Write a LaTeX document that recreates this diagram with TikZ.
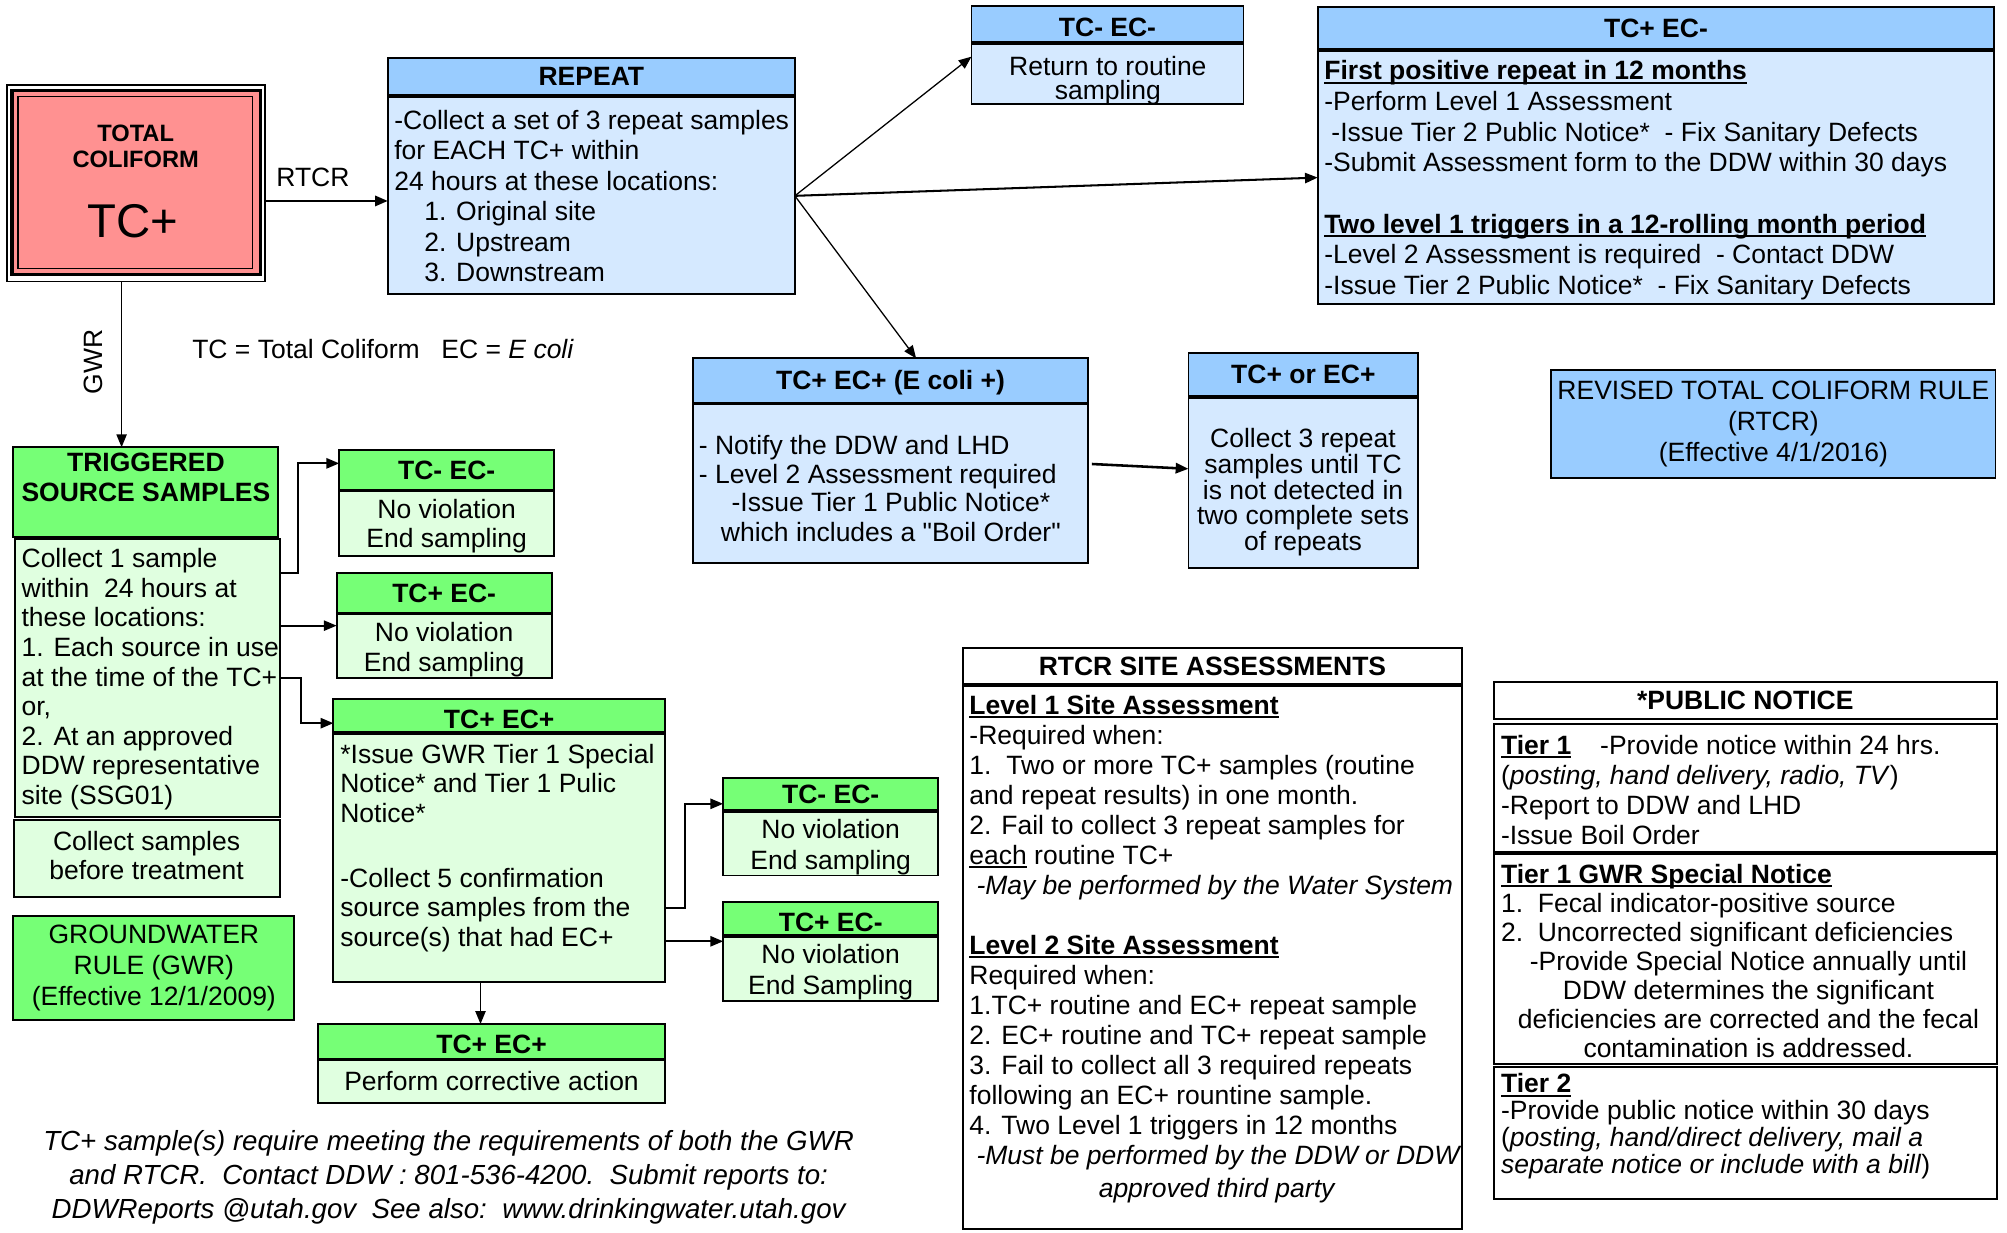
\documentclass[tikz,border=0pt]{standalone}
\usepackage{fontspec}
\setmainfont{Liberation Sans}
\usetikzlibrary{arrows.meta}
\definecolor{cbh}{HTML}{99CCFF}
\definecolor{cbb}{HTML}{D5E9FF}
\definecolor{cgh}{HTML}{76FF76}
\definecolor{cgb}{HTML}{E0FFE0}
\definecolor{crd}{HTML}{FF9191}
\newcommand\fs{\fontsize{20.7}{24}\selectfont}
\newcommand\fsb[1]{\fontsize{20.7}{#1}\selectfont}
\newcommand\tl{\rule{0pt}{15pt}}
\newcommand\sq{\XeTeXglyph\XeTeXcharglyph"22\relax}
\newbox\ulbx
\newcommand\myul[1]{\setbox\ulbx\hbox{#1}\rlap{\rule[-3pt]{\wd\ulbx}{1.5pt}}\box\ulbx}
\newcommand\mkbox[7]{\node[#2, minimum width={#5-#3}, minimum height={#6-#4}] (#1) at (#3,#4) {#7};}
\tikzset{
  bx/.style={draw, line width=1.5pt, inner sep=0pt, outer sep=0pt, anchor=north west, rectangle},
  hd/.style={bx, font=\fs\bfseries, text height=14.8pt, text depth=0pt},
  hlow/.style={text height=19.8pt},
  bluehead/.style={hd, fill=cbh},
  bluebody/.style={bx, fill=cbb},
  greenhead/.style={hd, fill=cgh},
  greenbody/.style={bx, fill=cgb},
  whitehead/.style={hd, fill=white},
  whitebody/.style={bx, fill=white},
  revbox/.style={bx, fill=cbh, align=center, font=\fs},
  gwrbox/.style={bx, fill=cgh, align=center, font=\fs},
  tcout/.style={bx, line width=1pt, fill=white},
  txt/.style={inner sep=0pt, anchor=north west, align=left, font=\fs},
  txtc/.style={inner sep=0pt, anchor=north, align=center, font=\fs},
  arr/.style={-{Triangle[length=10pt,width=8pt]}, line width=1.5pt},
}
\begin{document}
\begin{tikzpicture}[x=1pt,y=-1pt]
\fill[white] (0,0) rectangle (1568,963);
\useasboundingbox (0,0) rectangle (1568,963);

% ---------- boxes ----------
\mkbox{tc}{tcout}{5.5}{66.5}{207}{220}{}
\draw[line width=2.5pt, fill=crd] (9.3,71) rectangle (203.5,214.5);
\draw[line width=1pt] (14,75.5) rectangle (197.5,210);

\mkbox{repH}{bluehead}{303}{45}{621}{74.5}{REPEAT}
\mkbox{repB}{bluebody}{303}{76}{621}{230}{}
\mkbox{tcmH}{bluehead,hlow}{759}{5}{971.5}{33}{TC- EC-}
\mkbox{tcmB}{bluebody}{759}{34.5}{971.5}{81}{}
\mkbox{tceH}{bluehead}{1029.5}{5.5}{1558}{38.5}{TC+ EC-}
\mkbox{tceB}{bluebody}{1029.5}{40}{1558}{237.5}{}
\mkbox{ecH}{bluehead}{541.5}{280}{850}{314.5}{TC+ EC+ (E coli +)}
\mkbox{ecB}{bluebody}{541.5}{316}{850}{440}{}
\mkbox{orH}{bluehead}{928.5}{275.5}{1108}{309.5}{TC+ or EC+}
\mkbox{orB}{bluebody}{928.5}{311}{1108}{443.5}{}
\mkbox{rev}{revbox}{1212}{289}{1559}{373.6}{REVISED TOTAL COLIFORM RULE\\(RTCR)\\(Effective 4/1/2016)}

\mkbox{trigH}{greenhead}{10}{349.4}{217}{419.6}{}
\mkbox{trigB}{greenbody}{11.5}{421}{219}{638}{}
\mkbox{col}{greenbody}{11}{640.4}{219}{701}{}
\mkbox{gwr}{gwrbox}{10.4}{715.5}{230}{797}{GROUNDWATER\\RULE (GWR)\\(Effective 12/1/2009)}
\mkbox{g1H}{greenhead}{265}{351.5}{433}{382.5}{TC- EC-}
\mkbox{g1B}{greenbody}{265}{384}{433}{434.3}{}
\mkbox{g2H}{greenhead}{263}{448}{431}{478.5}{TC+ EC-}
\mkbox{g2B}{greenbody}{263}{480}{431}{530}{}
\mkbox{g3H}{greenhead,hlow}{260.5}{546}{519.5}{572}{TC+ EC+}
\mkbox{g3B}{greenbody}{260.5}{573.5}{519.5}{767}{}
\mkbox{g4H}{greenhead}{565}{607.5}{733}{633}{TC- EC-}
\mkbox{g4B}{greenbody}{565}{634.5}{733}{684}{}
\mkbox{g5H}{greenhead,hlow}{565}{705}{733}{730.8}{TC+ EC-}
\mkbox{g5B}{greenbody}{565}{732.3}{733}{782}{}
\mkbox{g6H}{greenhead,hlow}{248.6}{800}{519.5}{827}{TC+ EC+}
\mkbox{g6B}{greenbody}{248.6}{828.5}{519.5}{862}{}

\mkbox{rsaH}{whitehead}{752}{506.5}{1142.5}{534.5}{RTCR SITE ASSESSMENTS}
\mkbox{rsaB}{whitebody}{752}{536}{1142.5}{960.5}{}
\mkbox{pnH}{whitehead}{1167}{532.5}{1560}{562}{*PUBLIC NOTICE}
\mkbox{pn1}{whitebody}{1167}{565.5}{1560}{665.5}{}
\mkbox{pn2}{whitebody}{1167}{667.5}{1560}{831}{}
\mkbox{pn3}{whitebody}{1167}{833.5}{1560}{937}{}

% ---------- connectors ----------
\coordinate (rin) at ([yshift=-4pt]repB.west);
\draw[arr, line width=2pt] (tc.east |- rin) -- (rin);
\draw[arr, line width=1pt] (repB.east) -- ([yshift=13.5pt]tcmB.west);
\draw[arr, line width=1.6pt] (repB.east) -- (tceB.west);
\draw[arr, line width=1pt] (repB.east) -- ([xshift=20pt]ecH.north);
\draw[arr, line width=2pt] ([xshift=3pt,yshift=15.5pt]ecB.east) -- ([yshift=11pt]orB.west);
\coordinate (gx) at (95,0);
\draw[arr, line width=1pt] (tc.south -| gx) -- (trigH.north -| gx);
\draw[arr] ([yshift=82pt]trigB.east) -- ++(14,0) |- ([yshift=5pt]g1H.west);
\coordinate (t2) at ([yshift=40.7pt]trigB.east);
\draw[arr] (t2) -- (t2 -| g2B.west);
\draw[arr] ([yshift=-0.5pt]trigB.east) -- ++(16,0) |- ([yshift=-6pt]g3H.west);
\draw[arr] ([yshift=-39.25pt]g3B.east) -- ++(15.5,0) |- ([yshift=-7.75pt]g4H.west);
\coordinate (t5) at ([yshift=-65.15pt]g3B.east);
\draw[arr] (t5) -- (t5 -| g5H.west);
\coordinate (t6) at ([xshift=-14.6pt]g3B.south);
\draw[arr, line width=1pt] (t6) -- (t6 |- g6H.north);

% ---------- texts ----------
\node[font=\fontsize{18.5}{20}\selectfont\bfseries, anchor=base, inner sep=0pt] (tcA) at (106,110.6) {TOTAL};
\node[font=\fontsize{18.5}{20}\selectfont\bfseries, anchor=base, inner sep=0pt] (tcB) at (106,130.6) {COLIFORM};
\node[font=\fontsize{37}{40}\selectfont, anchor=base, inner sep=0pt] (tcC) at (103.7,185.25) {TC+};
\node[font=\fs, anchor=base, inner sep=0pt] (lbRTCR) at (244.5,145.4) {RTCR};
\node[font=\fs, rotate=90, inner sep=0pt] (lbGWR) at (73,283) {GWR};
\node[font=\fs, anchor=base west, inner sep=0pt] (legend) at (150,280.4) {TC = Total Coliform\hspace{17pt}EC = \textit{E coli}};

\node[txt, font={\fsb{23.7}}] (repT) at (307.9,86.1) {\tl -Collect a set of 3 repeat samples\\for EACH TC+ within\\24 hours at these locations:\\\hspace*{23.4pt}1. Original site\\\hspace*{23.4pt}2. Upstream\\\hspace*{23.4pt}3. Downstream};

\node[txtc, font={\fsb{19}}] (tcmT) at (865.5,43.4) {\tl Return to routine\\sampling};

\node[txt, font={\fsb{23.95}}] (tceT) at (1034.5,47.1) {\tl\textbf{\myul{First positive repeat in 12 months}}\\-Perform Level 1 Assessment\\\hspace*{5.5pt}-Issue Tier 2 Public Notice*\ \ - Fix Sanitary Defects\\-Submit Assessment form to the DDW within 30 days\\[23.95pt]\textbf{\myul{Two level 1 triggers in a 12-rolling month period}}\\-Level 2 Assessment is required\ \ - Contact DDW\\-Issue Tier 2 Public Notice*\ \ - Fix Sanitary Defects};

\node[txt, font={\fsb{22.6}}] (ecT1) at (545.8,340) {\tl - Notify the DDW and LHD\\- Level 2 Assessment required};
\node[txtc, font={\fsb{23.4}}] (ecT2) at (696,384.4) {\tl -Issue Tier 1 Public Notice*\\which includes a \sq Boil Order\sq};

\node[txtc, font={\fsb{18.9}}] (orT) at (1018,334.8) {\tl Collect 3 repeat\\samples until TC\\is not detected in\\two complete sets\\of repeats};

\node[txtc, font={\fsb{23.3}\bfseries}] (trigHT) at (114,353.4) {\tl TRIGGERED\\SOURCE SAMPLES};
\node[txt, font={\fsb{23.1}}] (trigT) at (16.7,428.4) {\tl Collect 1 sample\\within\ \ 24 hours at\\these locations:\\1. Each source in use\\at the time of the TC+\\or,\\2. At an approved\\DDW representative\\site (SSG01)};
\node[txtc, font={\fsb{22.7}}] (colT) at (114.5,649.4) {\tl Collect samples\\before treatment};

\node[txtc, font={\fsb{23.3}}] (g1T) at (349,389.6) {\tl No violation\\End sampling};
\node[txtc, font={\fsb{23.3}}] (g2T) at (347,485.8) {\tl No violation\\End sampling};
\node[txt, font={\fsb{23.3}}] (g3T) at (265.7,581) {\tl *Issue GWR Tier 1 Special\\Notice* and Tier 1 Pulic\\Notice*\\[26.9pt]-Collect 5 confirmation\\source samples from the\\source(s) that had EC+};
\node[txtc, font={\fsb{24.6}}] (g4T) at (649,639.8) {\tl No violation\\End sampling};
\node[txtc, font={\fsb{24}}] (g5T) at (649,737.4) {\tl No violation\\End Sampling};
\node[txtc] (g6T) at (384,837) {\tl Perform corrective action};

\node[txt, font={\fsb{23.45}}] (rsaT) at (757.2,542.9) {\tl\textbf{\myul{Level 1 Site Assessment}}\\-Required when:\\1.\ \ Two or more TC+ samples (routine\\and repeat results) in one month.\\2. Fail to collect 3 repeat samples for\\\myul{each} routine TC+\\\hspace*{5.5pt}\textit{-May be performed by the Water System}\\[23.45pt]\textbf{\myul{Level 2 Site Assessment}}\\Required when:\\1.TC+ routine and EC+ repeat sample\\2. EC+ routine and TC+ repeat sample\\3. Fail to collect all 3 required repeats\\following an EC+ rountine sample.\\4. Two Level 1 triggers in 12 months\\\hspace*{5.5pt}\textit{-Must be performed by the DDW or DDW}};
\node[txtc] (rsaT2) at (951,920.4) {\tl\textit{approved third party}};

\node[txt, font={\fsb{23.6}}] (pn1T) at (1172.5,574.1) {\tl\makebox[77.5pt][l]{\textbf{\myul{Tier 1}}}-Provide notice within 24 hrs.\\(\textit{posting, hand delivery, radio, TV})\\-Report to DDW and LHD\\-Issue Boil Order};
\node[txt, font={\fsb{22.9}}] (pn2T) at (1172.5,674.7) {\tl\textbf{\myul{Tier 1 GWR Special Notice}}\\1.\ \ Fecal indicator-positive source\\2.\ \ Uncorrected significant deficiencies};
\node[txtc, font={\fsb{22.7}}] (pn2T2) at (1366,743.2) {\tl -Provide Special Notice annually until\\DDW determines the significant\\deficiencies are corrected and the fecal\\contamination is addressed.};
\node[txt, font={\fsb{20.9}}] (pn3T) at (1172.5,838.7) {\tl\textbf{\myul{Tier 2}}\\-Provide public notice within 30 days\\(\textit{posting, hand/direct delivery, mail a}\\\textit{separate notice or include with a bill})};

\node[txtc, font={\fontsize{21.6}{26.5}\selectfont\itshape}] (foot) at (350.5,883.1) {\rule{0pt}{15.6pt}TC+ sample(s) require meeting the requirements of both the GWR\\and RTCR.\ \ Contact DDW : 801-536-4200.\ \ Submit reports to:\\DDWReports @utah.gov\ \ See also:\ \ www.drinkingwater.utah.gov};
\end{tikzpicture}
\end{document}
